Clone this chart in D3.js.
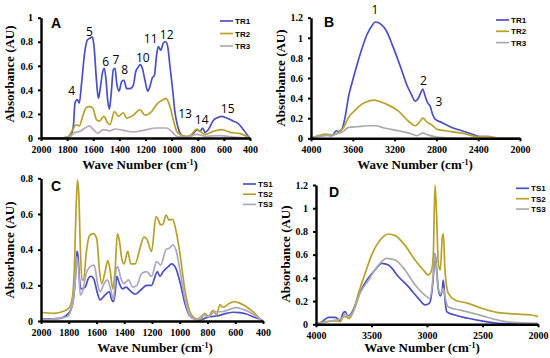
<!DOCTYPE html>
<html>
<head>
<meta charset="utf-8">
<script src="https://cdnjs.cloudflare.com/ajax/libs/d3/7.8.5/d3.min.js"></script>
<style>
  body { margin: 0; background: #fff; }
  .tick text { font-family: "Liberation Serif", "Times New Roman", serif; font-weight: bold; font-size: 10px; }
  .title { font-family: "Liberation Serif", "Times New Roman", serif; font-weight: bold; font-size: 13px; }
  .letter { font-family: "Liberation Sans", Arial, sans-serif; font-weight: bold; font-size: 14px; }
  .leg { font-family: "Liberation Sans", Arial, sans-serif; font-weight: bold; font-size: 8px; }
  .peak { font-family: "Open Sans", "Liberation Sans", sans-serif; font-size: 12px; }
</style>
</head>
<body>
<script>
// ---- data: [wave number, absorbance] ----
var tr1A = [[2000,0],[1850,0],[1803,0.005],[1778,0.01],[1752,0.1],[1740,0.29],[1722,0.32],[1707,0.29],[1689,0.46],[1663,0.73],[1645,0.815],[1625,0.83],[1607,0.84],[1594,0.76],[1574,0.46],[1561,0.33],[1548,0.40],[1528,0.55],[1515,0.58],[1502,0.48],[1490,0.32],[1477,0.24],[1464,0.35],[1446,0.57],[1433,0.58],[1421,0.46],[1403,0.39],[1382,0.47],[1365,0.48],[1344,0.41],[1319,0.41],[1293,0.44],[1275,0.55],[1255,0.59],[1242,0.61],[1224,0.58],[1204,0.48],[1183,0.39],[1166,0.43],[1148,0.50],[1132,0.52],[1114,0.70],[1102,0.76],[1084,0.73],[1063,0.79],[1046,0.80],[1030,0.76],[1012,0.59],[992,0.40],[974,0.21],[954,0.10],[936,0.04],[910,0.014],[872,0.008],[847,0.02],[821,0.055],[803,0.07],[783,0.055],[762,0.083],[744,0.047],[719,0.07],[681,0.146],[655,0.166],[617,0.18],[579,0.166],[528,0.14],[489,0.12],[451,0.07],[413,0.014],[400,0]];
var tr2A = [[2000,0],[1850,0],[1800,0.005],[1752,0.08],[1732,0.11],[1707,0.10],[1681,0.18],[1655,0.25],[1630,0.26],[1604,0.25],[1574,0.15],[1553,0.14],[1518,0.18],[1492,0.13],[1472,0.11],[1438,0.22],[1408,0.18],[1370,0.21],[1344,0.165],[1293,0.19],[1242,0.235],[1204,0.19],[1153,0.22],[1114,0.28],[1063,0.32],[1043,0.33],[1012,0.26],[987,0.15],[961,0.055],[936,0.03],[885,0.014],[847,0.03],[808,0.075],[783,0.055],[744,0.03],[681,0.055],[617,0.07],[554,0.047],[477,0.036],[400,0]];
var tr3A = [[2000,0],[1850,0],[1790,0.005],[1740,0.047],[1701,0.055],[1663,0.083],[1630,0.10],[1599,0.07],[1566,0.04],[1523,0.07],[1472,0.06],[1433,0.075],[1370,0.064],[1293,0.05],[1216,0.064],[1114,0.083],[1038,0.083],[1000,0.055],[961,0.014],[885,0.005],[808,0.03],[731,0.014],[630,0.02],[528,0.008],[400,0]];

var tr1B = [[4000,0],[3927,0.02],[3863,0.033],[3799,0.026],[3758,0.075],[3736,0.066],[3704,0.09],[3672,0.22],[3640,0.42],[3608,0.55],[3560,0.73],[3513,0.89],[3465,1.03],[3417,1.12],[3385,1.157],[3353,1.15],[3306,1.11],[3274,1.06],[3226,0.94],[3178,0.81],[3130,0.67],[3083,0.53],[3041,0.44],[3003,0.37],[2978,0.39],[2955,0.44],[2930,0.49],[2908,0.42],[2882,0.35],[2860,0.32],[2837,0.24],[2812,0.19],[2748,0.157],[2653,0.108],[2557,0.075],[2462,0.043],[2382,0.016],[2302,0.016],[2239,0],[2000,0]];
var tr2B = [[4000,0],[3927,0.026],[3863,0.043],[3783,0.033],[3736,0.06],[3688,0.108],[3640,0.21],[3576,0.28],[3513,0.34],[3449,0.37],[3395,0.38],[3338,0.364],[3258,0.33],[3162,0.27],[3067,0.17],[3003,0.125],[2965,0.157],[2930,0.20],[2892,0.164],[2844,0.134],[2796,0.09],[2716,0.075],[2557,0.052],[2398,0.016],[2302,0.016],[2200,0.004],[2000,0]];
var tr3B = [[4000,0],[3927,0.02],[3863,0.026],[3767,0.043],[3704,0.06],[3640,0.108],[3560,0.115],[3449,0.125],[3385,0.125],[3290,0.10],[3162,0.075],[3035,0.043],[2987,0.026],[2930,0.052],[2876,0.033],[2780,0.01],[2600,0.002],[2000,0]];

var ts1C = [[2000,0.01],[1861,0.015],[1813,0.034],[1777,0.08],[1753,0.23],[1741,0.39],[1734,0.37],[1722,0.23],[1713,0.18],[1681,0.19],[1658,0.24],[1641,0.25],[1622,0.24],[1593,0.155],[1574,0.118],[1550,0.136],[1526,0.155],[1507,0.164],[1490,0.118],[1478,0.108],[1466,0.155],[1454,0.25],[1435,0.21],[1413,0.18],[1387,0.19],[1358,0.17],[1322,0.15],[1286,0.17],[1238,0.20],[1203,0.20],[1178,0.25],[1162,0.277],[1143,0.25],[1119,0.277],[1083,0.305],[1059,0.32],[1028,0.295],[999,0.22],[963,0.10],[927,0.028],[891,0.011],[855,0.006],[819,0.015],[783,0.024],[735,0.028],[664,0.043],[616,0.049],[568,0.047],[520,0.039],[472,0.024],[412,0.006],[400,0]];
var ts2C = [[2000,0.049],[1909,0.043],[1849,0.052],[1801,0.071],[1777,0.118],[1760,0.286],[1746,0.66],[1737,0.79],[1727,0.70],[1717,0.42],[1705,0.23],[1693,0.23],[1674,0.38],[1650,0.48],[1622,0.49],[1598,0.46],[1579,0.286],[1562,0.21],[1538,0.277],[1519,0.338],[1502,0.286],[1483,0.18],[1466,0.286],[1449,0.49],[1435,0.45],[1418,0.35],[1401,0.32],[1375,0.39],[1353,0.32],[1322,0.32],[1286,0.41],[1258,0.47],[1238,0.46],[1203,0.39],[1171,0.585],[1159,0.575],[1138,0.54],[1123,0.54],[1099,0.594],[1076,0.566],[1052,0.57],[1028,0.51],[999,0.38],[963,0.174],[927,0.052],[891,0.015],[855,0.006],[819,0.043],[795,0.024],[759,0.06],[735,0.034],[711,0.09],[688,0.077],[640,0.10],[604,0.108],[568,0.10],[520,0.08],[472,0.052],[424,0.015],[400,0]];
var ts3C = [[2000,0.006],[1813,0.024],[1777,0.08],[1753,0.23],[1741,0.36],[1729,0.286],[1717,0.146],[1698,0.174],[1674,0.267],[1646,0.305],[1617,0.314],[1590,0.20],[1574,0.164],[1545,0.21],[1521,0.23],[1497,0.174],[1478,0.12],[1459,0.286],[1447,0.305],[1425,0.24],[1401,0.21],[1370,0.23],[1339,0.19],[1310,0.20],[1274,0.267],[1238,0.277],[1203,0.25],[1167,0.333],[1138,0.314],[1099,0.40],[1071,0.41],[1052,0.426],[1028,0.40],[999,0.286],[963,0.127],[927,0.03],[879,0.007],[831,0.034],[795,0.024],[747,0.052],[699,0.052],[640,0.065],[592,0.075],[544,0.065],[472,0.039],[400,0]];

var ts1D = [[4000,0],[3946,0.023],[3886,0.06],[3826,0.06],[3781,0.032],[3757,0.095],[3737,0.11],[3713,0.066],[3683,0.09],[3653,0.15],[3602,0.28],[3542,0.38],[3467,0.47],[3407,0.525],[3347,0.51],[3257,0.41],[3168,0.324],[3078,0.224],[3018,0.167],[2979,0.18],[2958,0.267],[2943,0.41],[2928,0.61],[2913,0.47],[2898,0.30],[2880,0.244],[2862,0.30],[2853,0.38],[2838,0.21],[2823,0.11],[2749,0.08],[2629,0.052],[2509,0.029],[2359,0.009],[2200,0.002],[2000,0]];
var ts2D = [[4000,0],[3916,0.023],[3826,0.03],[3781,0.023],[3752,0.066],[3731,0.066],[3701,0.05],[3662,0.12],[3617,0.27],[3557,0.44],[3497,0.60],[3422,0.726],[3347,0.778],[3287,0.764],[3198,0.68],[3108,0.554],[3033,0.468],[2988,0.425],[2958,0.468],[2943,0.61],[2928,1.2],[2913,0.93],[2898,0.525],[2880,0.468],[2862,0.755],[2853,0.78],[2838,0.468],[2808,0.267],[2749,0.21],[2629,0.18],[2509,0.138],[2359,0.10],[2210,0.089],[2060,0.08],[2000,0.066]];
var ts3D = [[4000,0],[3916,0.017],[3826,0.037],[3766,0.05],[3737,0.09],[3707,0.066],[3662,0.11],[3602,0.27],[3527,0.38],[3437,0.51],[3362,0.568],[3287,0.554],[3198,0.468],[3108,0.34],[3018,0.25],[2973,0.224],[2952,0.34],[2928,0.61],[2907,0.38],[2883,0.26],[2868,0.28],[2853,0.31],[2832,0.21],[2808,0.15],[2689,0.12],[2509,0.075],[2329,0.03],[2180,0.014],[2000,0.009]];

var ticksA = [2000,1800,1600,1400,1200,1000,800,600,400];
var ticksB = [4000,3600,3200,2800,2400,2000];
var ticksD = [4000,3500,3000,2500,2000];
var peaksA = [["4",1765,0.36],["5",1630,0.846],["6",1505,0.597],["7",1426,0.617],["8",1359,0.534],["10",1221,0.633],["11",1160,0.791],["12",1038,0.825],["13",897,0.168],["14",770,0.118],["15",571,0.21]];
var peaksB = [["1",3388,1.232],["2",2925,0.535],["3",2775,0.32]];

var blue = "#4B4FC6", gold = "#B8A12A", mauve = "#B9A7B8", grey = "#AAAAAA", lilac = "#ADA6C2";

var svg = d3.select("body").append("svg").attr("width", 550).attr("height", 358);

function fmt(d) { return d === 0 ? "0" : String(+d.toFixed(1)); }

function panel(p) {
  var g = svg.append("g");
  var x = d3.scaleLinear().domain(p.xd).range(p.xr);
  var y = d3.scaleLinear().domain([0, p.ymax]).range(p.yr);
  var line = d3.line().x(function(d) { return x(d[0]); }).y(function(d) { return y(d[1]); }).curve(d3.curveMonotoneX);

  // series
  p.series.forEach(function(s) {
    g.append("path").datum(s.data)
      .attr("fill", "none").attr("stroke", s.color).attr("stroke-width", 1.7)
      .attr("stroke-linejoin", "round").attr("d", line);
  });

  // axes
  var xa = g.append("g").attr("transform", "translate(0," + p.yr[0] + ")")
    .call(d3.axisBottom(x).tickValues(p.xt).tickSize(3).tickSizeOuter(0).tickFormat(d3.format("d")));
  var ya = g.append("g").attr("transform", "translate(" + p.xr[0] + ",0)")
    .call(d3.axisLeft(y).tickValues(d3.range(0, p.ymax + 0.01, 0.2)).tickSize(3).tickSizeOuter(0).tickFormat(fmt));
  [xa, ya].forEach(function(a) {
    a.select(".domain").attr("stroke", "#000").attr("stroke-width", 2.4);
    a.selectAll(".tick line").attr("stroke", "#000").attr("stroke-width", 2);
    a.selectAll(".tick text").attr("fill", "#000");
  });
  xa.selectAll(".tick text").attr("dy", "0.9em");
  ya.selectAll(".tick text").attr("dx", "-0.2em");

  // titles
  var xt = g.append("text").attr("class", "title").attr("text-anchor", "middle")
    .attr("x", p.xtitle[0]).attr("y", p.xtitle[1]);
  xt.append("tspan").text("Wave Number (cm");
  xt.append("tspan").attr("dy", -4).attr("font-size", "8px").text("-1");
  xt.append("tspan").attr("dy", 4).text(")");
  g.append("text").attr("class", "title").attr("text-anchor", "middle")
    .attr("transform", "translate(" + p.ytitle[0] + "," + p.ytitle[1] + ") rotate(-90)")
    .text("Absorbance (AU)");

  g.append("text").attr("class", "letter").attr("x", p.letter[0]).attr("y", p.letter[1]).text(p.name);

  // legend
  p.series.forEach(function(s, i) {
    var ly = p.leg[1] + i * p.leg[2];
    g.append("line").attr("x1", p.leg[0]).attr("x2", p.leg[0] + 13).attr("y1", ly).attr("y2", ly)
      .attr("stroke", s.color).attr("stroke-width", 1.7);
    g.append("text").attr("class", "leg").attr("x", p.leg[0] + 15).attr("y", ly + 3).text(s.label);
  });

  // peak numbers
  (p.peaks || []).forEach(function(k) {
    g.append("text").attr("class", "peak").attr("text-anchor", "middle")
      .attr("x", x(k[1])).attr("y", y(k[2])).text(k[0]);
  });
}

panel({ name: "A", xd: [2000, 400], xr: [41, 250], ymax: 1, yr: [138, 17.7], xt: ticksA,
  series: [{ data: tr1A, color: blue, label: "TR1" }, { data: tr2A, color: gold, label: "TR2" }, { data: tr3A, color: mauve, label: "TR3" }],
  xtitle: [140, 169], ytitle: [14, 74], letter: [51, 28], leg: [220, 21, 12.5], peaks: peaksA });

panel({ name: "B", xd: [4000, 2000], xr: [311, 520], ymax: 1.2, yr: [138.3, 17.7], xt: ticksB,
  series: [{ data: tr1B, color: blue, label: "TR1" }, { data: tr2B, color: gold, label: "TR2" }, { data: tr3B, color: grey, label: "TR3" }],
  xtitle: [415, 169], ytitle: [285, 78], letter: [324, 27], leg: [496, 20, 11.3], peaks: peaksB });

panel({ name: "C", xd: [2000, 400], xr: [41, 263], ymax: 0.8, yr: [321, 178.3], xt: ticksA,
  series: [{ data: ts1C, color: blue, label: "TS1" }, { data: ts2C, color: gold, label: "TS2" }, { data: ts3C, color: lilac, label: "TS3" }],
  xtitle: [155, 352], ytitle: [14, 250], letter: [51, 191], leg: [243, 184, 10.2], peaks: [] });

panel({ name: "D", xd: [4000, 2000], xr: [316, 538], ymax: 1.2, yr: [324.3, 185], xt: ticksD,
  series: [{ data: ts1D, color: blue, label: "TS1" }, { data: ts2D, color: gold, label: "TS2" }, { data: ts3D, color: grey, label: "TS3" }],
  xtitle: [422, 352], ytitle: [290, 254], letter: [329, 197], leg: [516, 188.3, 10.4], peaks: [] });
</script>
</body>
</html>
